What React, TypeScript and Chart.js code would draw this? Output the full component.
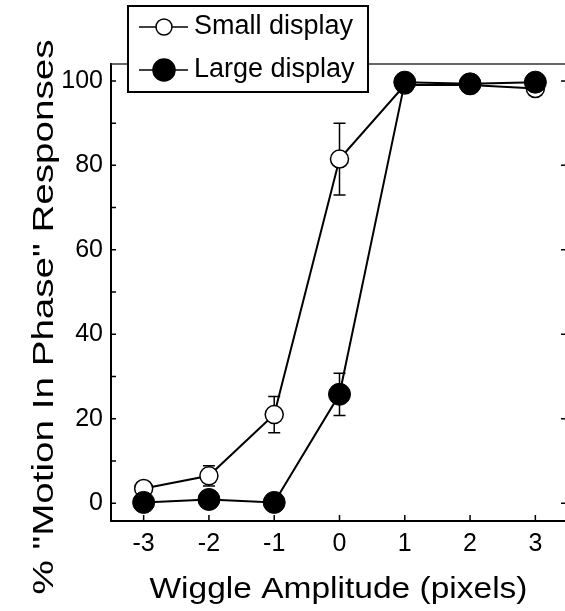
import { useEffect, useRef } from "react";
import { Chart, registerables } from "chart.js";

Chart.register(...registerables);

const FONT = "'Liberation Sans', Arial, Helvetica, sans-serif";

const xTicks = [-3, -2, -1, 0, 1, 2, 3];
const yMajorTicks = [0, 20, 40, 60, 80, 100];
const yMinorTicks = [10, 30, 50, 70, 90];

const seriesNames = ["Small display", "Large display"];
const smallValues = [3.5, 6.5, 21, 81.5, 99, 99, 98.2];
const smallErrors = [1, 2.4, 4.3, 8.5, 0.8, 0.8, 0.8];
const largeValues = [0.2, 0.9, 0.2, 25.8, 99.7, 99.3, 99.7];
const largeErrors = [0.5, 0.8, 0.5, 5, 0.5, 0.5, 0.5];

const xTitle = "Wiggle Amplitude (pixels)";
const yTitle = '% "Motion In Phase" Responses';

const CANVAS_W = 580;
const CANVAS_H = 611;

export default function App() {
  const ref = useRef<HTMLCanvasElement | null>(null);

  useEffect(() => {
    if (!ref.current) return;

    const errorBars = {
      id: "errorBars",
      beforeDatasetsDraw(chart: any) {
        const ctx = chart.ctx;
        const xs = chart.scales.x;
        const ys = chart.scales.y;
        const sets = [
          { v: smallValues, e: smallErrors },
          { v: largeValues, e: largeErrors },
        ];
        ctx.save();
        ctx.strokeStyle = "#000";
        ctx.lineWidth = 1.5;
        sets.forEach((s) => {
          s.v.forEach((val, i) => {
            const px = xs.getPixelForValue(xTicks[i]);
            const yt = ys.getPixelForValue(val + s.e[i]);
            const yb = ys.getPixelForValue(val - s.e[i]);
            ctx.beginPath();
            ctx.moveTo(px, yt);
            ctx.lineTo(px, yb);
            ctx.moveTo(px - 6, yt);
            ctx.lineTo(px + 6, yt);
            ctx.moveTo(px - 6, yb);
            ctx.lineTo(px + 6, yb);
            ctx.stroke();
          });
        });
        ctx.restore();
      },
    };

    const frame = {
      id: "frame",
      afterDraw(chart: any) {
        const ctx = chart.ctx;
        const { left, right, top, bottom } = chart.chartArea;
        const xs = chart.scales.x;
        const ys = chart.scales.y;
        ctx.save();
        ctx.strokeStyle = "#000";
        ctx.lineWidth = 1.5;
        ctx.beginPath();
        [...yMajorTicks, ...yMinorTicks].forEach((v) => {
          const py = ys.getPixelForValue(v);
          ctx.moveTo(left, py);
          ctx.lineTo(left + 5, py);
        });
        yMajorTicks.forEach((v) => {
          const py = ys.getPixelForValue(v);
          ctx.moveTo(right, py);
          ctx.lineTo(right - 7, py);
        });
        xTicks.forEach((v) => {
          const px = xs.getPixelForValue(v);
          ctx.moveTo(px, bottom);
          ctx.lineTo(px, bottom - 6);
        });
        ctx.stroke();
        ctx.strokeStyle = "#333";
        ctx.lineWidth = 1.5;
        ctx.beginPath();
        ctx.moveTo(left, top);
        ctx.lineTo(right, top);
        ctx.stroke();

        // axis titles
        ctx.fillStyle = "#000";
        ctx.textAlign = "center";
        ctx.textBaseline = "alphabetic";
        ctx.font = `29px ${FONT}`;
        let w = ctx.measureText(xTitle).width;
        ctx.save();
        ctx.translate((left + right) / 2 - 1, 598);
        ctx.scale(378 / w, 1);
        ctx.fillText(xTitle, 0, 0);
        ctx.restore();

        ctx.font = `30px ${FONT}`;
        w = ctx.measureText(yTitle).width;
        ctx.save();
        ctx.translate(53, 317);
        ctx.rotate(-Math.PI / 2);
        ctx.scale(555 / w, 1);
        ctx.fillText(yTitle, 0, 0);
        ctx.restore();

        // legend
        const bx = 128, by = 6, bw = 240, bh = 86;
        ctx.fillStyle = "#fff";
        ctx.fillRect(bx, by, bw, bh);
        ctx.strokeStyle = "#000";
        ctx.lineWidth = 2;
        ctx.strokeRect(bx, by, bw, bh);
        const rows = [27, 70];
        rows.forEach((ry, i) => {
          ctx.strokeStyle = "#000";
          ctx.lineWidth = 1.5;
          ctx.beginPath();
          ctx.moveTo(139, ry);
          ctx.lineTo(188, ry);
          ctx.stroke();
          ctx.beginPath();
          ctx.arc(164, ry, i === 0 ? 8 : 11, 0, Math.PI * 2);
          ctx.fillStyle = i === 0 ? "#fff" : "#000";
          ctx.fill();
          ctx.lineWidth = 1.5;
          ctx.stroke();
          ctx.fillStyle = "#000";
          ctx.font = `27px ${FONT}`;
          ctx.textBaseline = "middle";
          ctx.textAlign = "left";
          ctx.fillText(seriesNames[i], 194, ry);
        });
        ctx.restore();
      },
    };

    const chart = new Chart(ref.current, {
      type: "line",
      data: {
        datasets: [
          {
            label: seriesNames[1],
            data: xTicks.map((x, i) => ({ x, y: largeValues[i] })),
            borderColor: "#000",
            borderWidth: 2,
            pointRadius: 11,
            pointBackgroundColor: "#000",
            pointBorderColor: "#000",
            pointBorderWidth: 1,
            tension: 0,
          },
          {
            label: seriesNames[0],
            data: xTicks.map((x, i) => ({ x, y: smallValues[i] })),
            borderColor: "#000",
            borderWidth: 2,
            pointRadius: 9,
            pointBackgroundColor: "#fff",
            pointBorderColor: "#000",
            pointBorderWidth: 1.5,
            tension: 0,
          },
        ],
      },
      options: {
        responsive: false,
        animation: false,
        layout: { padding: { top: 64, left: 0, right: 0, bottom: 0 } },
        plugins: { legend: { display: false }, tooltip: { enabled: false } },
        scales: {
          x: {
            type: "linear",
            min: -3.5,
            max: 3.5,
            afterBuildTicks: (s: any) => {
              s.ticks = xTicks.map((v) => ({ value: v }));
            },
            afterFit: (s: any) => {
              s.height = 90;
            },
            grid: { display: false, drawTicks: false },
            border: { display: true, color: "#000", width: 2 },
            ticks: {
              color: "#000",
              font: { family: FONT, size: 25 },
              padding: 8,
              maxRotation: 0,
              callback: (v: any) => String(v),
            },
            title: { display: false },
          },
          y: {
            type: "linear",
            position: "left",
            min: -4.2,
            max: 104,
            afterBuildTicks: (s: any) => {
              s.ticks = yMajorTicks.map((v) => ({ value: v }));
            },
            afterFit: (s: any) => {
              s.width = 111;
            },
            grid: { display: false, drawTicks: false },
            border: { display: true, color: "#000", width: 2 },
            ticks: {
              color: "#000",
              font: { family: FONT, size: 25 },
              padding: 8,
              callback: (v: any) => String(v),
            },
            title: { display: false },
          },
          y2: {
            type: "linear",
            position: "right",
            min: -4.2,
            max: 104,
            afterFit: (s: any) => {
              s.width = CANVAS_W - 569;
            },
            grid: { display: false, drawTicks: false },
            border: { display: true, color: "#000", width: 2 },
            ticks: { display: false },
          },
        },
      },
      plugins: [errorBars, frame],
    } as any);

    return () => chart.destroy();
  }, []);

  return (
    <div
      style={{
        position: "absolute",
        left: 0,
        top: 0,
        width: 565,
        height: 611,
        overflow: "hidden",
        background: "#fff",
      }}
    >
      <canvas ref={ref} width={CANVAS_W} height={CANVAS_H} style={{ display: "block" }} />
    </div>
  );
}
